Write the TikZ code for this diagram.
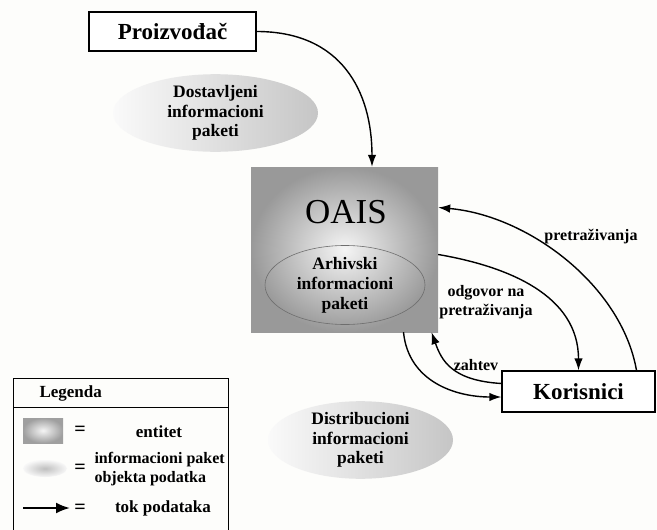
\documentclass[tikz,border=0pt]{standalone}
\usepackage{fontspec}
\setmainfont{Liberation Serif}
\usetikzlibrary{arrows.meta,positioning,shapes.geometric}
\definecolor{Paper}{HTML}{FDFDFB}
\definecolor{Rim}{HTML}{6E6E6E}

\tikzset{
  entity/.style={draw,line width=1.3pt,fill=white,inner sep=0pt,
    font=\fontsize{23}{26}\selectfont\bfseries},
  package/.style={ellipse,inner sep=0pt,align=center,
    left color=gray!4,right color=gray!45,
    font=\fontsize{17.5}{19.5}\selectfont\bfseries},
  flow/.style={line width=1.4pt,-{Latex[length=12pt,width=8.5pt]}},
  flowlabel/.style={font=\fontsize{16}{19}\selectfont\bfseries,align=center},
  legendtext/.style={font=\fontsize{17}{19}\selectfont\bfseries},
}

\begin{document}
\begin{tikzpicture}[x=1pt,y=-1pt]
  \useasboundingbox[fill=Paper] (0,0) rectangle (657,530);

  % entiteti
  \node[entity,minimum width=167pt,minimum height=39pt] (prod) at (172.5,31.5) {Proizvođač};
  \node[entity,minimum width=153pt,minimum height=41pt] (kor) at (578.5,391.5) {Korisnici};
  \node[minimum width=187pt,minimum height=165pt,inner sep=0pt,
    inner color=gray!8,outer color=gray!80] (oais) at (344.5,249.5) {};
  \node[font=\fontsize{35}{38}\selectfont] (oaistitle) at (346,212) {OAIS};
  \node[ellipse,draw=Rim,line width=0.6pt,minimum width=160pt,minimum height=70pt,
    inner sep=0pt,align=center,font=\fontsize{17.5}{20}\selectfont\bfseries]
    (aip) at (345,285) {Arhivski\\informacioni\\paketi};

  % paketi
  \node[package,minimum width=205pt,minimum height=75pt] (sip) at (215.5,113) {Dostavljeni\\informacioni\\paketi};
  \node[package,minimum width=185pt,minimum height=77pt] (dip) at (360.5,440) {Distribucioni\\informacioni\\paketi};

  % tokovi
  \draw[flow] (prod.east) .. controls +(85,0) and +(0,-75) .. ([xshift=27.5pt]oais.north);
  \draw[flow] ([xshift=58pt]kor.north) .. controls +(-15,-85) and +(90,8) .. ([yshift=42pt]oais.east);
  \draw[flow] ([yshift=-5pt]oais.east) .. controls +(70,12) and +(0,-75) .. (kor.north);
  \draw[flow] ([yshift=8pt]kor.west) .. controls +(-50,-3) and +(10,28) .. ([xshift=87pt]oais.south);
  \draw[flow] ([xshift=59pt]oais.south) .. controls +(5,50) and +(-45,0) .. ([yshift=-5.5pt]kor.west);

  \node[flowlabel] (lsearch) at (591,237) {pretraživanja};
  \node[flowlabel] (lanswer) at (486,302) {odgovor na\\pretraživanja};
  \node[flowlabel] (lask) at (476,365) {zahtev};

  % legenda
  \draw[line width=1pt] (13,378) rectangle (228,545);
  \draw[line width=1pt] (13,407) -- (228,407);
  \node[legendtext,anchor=west] (legtitle) at (36,393) {Legenda};
  \node[minimum width=40pt,minimum height=25pt,inner sep=0pt,
    inner color=gray!8,outer color=gray!75] (legbox) at (43,430.5) {};
  \node[legendtext,font=\fontsize{20}{20}\selectfont\bfseries] (eq1) at (80,431) {=};
  \node[legendtext] (legent) at (159,432) {entitet};
  \node[ellipse,minimum width=44pt,minimum height=17pt,inner sep=0pt,
    inner color=gray!50,outer color=gray!6] (legpack) at (45,468.5) {};
  \node[legendtext,font=\fontsize{20}{20}\selectfont\bfseries] (eq2) at (80,469) {=};
  \node[anchor=west,align=left,font=\fontsize{16}{19}\selectfont\bfseries]
    (legpacktext) at (91,469) {informacioni paket\\objekta podatka};
  \coordinate (legfrom) at (23,508);
  \coordinate (legto) at (70,508);
  \draw[line width=2.2pt,-{Latex[length=14pt,width=11pt]}] (legfrom) -- (legto);
  \node[legendtext,font=\fontsize{20}{20}\selectfont\bfseries] (eq3) at (80,509) {=};
  \node[legendtext] (legflow) at (163,508) {tok podataka};
\end{tikzpicture}
\end{document}
